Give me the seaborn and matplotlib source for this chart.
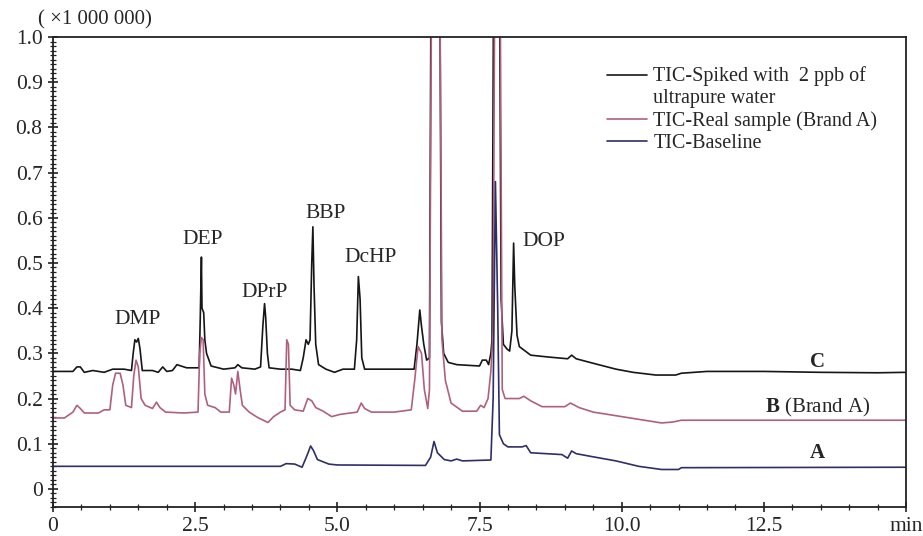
import numpy as np
import pandas as pd
import matplotlib
matplotlib.use("Agg")
import matplotlib.pyplot as plt
from matplotlib.ticker import MultipleLocator
import seaborn as sns

# Trace C - spiked with 2 ppb (time in min, intensity x 1 000 000)
c_time = [0.00, 0.35, 0.42, 0.48, 0.55, 0.70, 0.90, 1.05, 1.25, 1.38, 1.41, 1.44, 1.47, 1.50,
          1.53, 1.57, 1.75, 1.85, 1.93, 2.00, 2.10, 2.18, 2.25, 2.35, 2.57, 2.59, 2.61, 2.62,
          2.65, 2.67, 2.70, 2.78, 3.00, 3.20, 3.25, 3.32, 3.55, 3.65, 3.69, 3.72, 3.74, 3.77,
          3.80, 4.00, 4.20, 4.35, 4.40, 4.45, 4.49, 4.52, 4.55, 4.57, 4.59, 4.62, 4.67, 4.80,
          4.95, 5.10, 5.30, 5.34, 5.37, 5.40, 5.43, 5.48, 5.60, 6.00, 6.35, 6.40, 6.45, 6.48,
          6.52, 6.57, 6.62, 6.65, 6.80, 6.83, 6.87, 6.95, 7.10, 7.50, 7.55, 7.62, 7.66, 7.70,
          7.72, 7.75, 7.85, 7.88, 7.92, 7.98, 8.03, 8.07, 8.10, 8.12, 8.16, 8.20, 8.40, 8.70,
          9.05, 9.12, 9.20, 9.50, 9.90, 10.20, 10.60, 10.95, 11.05, 11.50, 12.50, 13.50, 14.50,
          15.00]
c_vals = [0.260, 0.260, 0.270, 0.270, 0.258, 0.262, 0.258, 0.265, 0.265, 0.262, 0.300, 0.330,
          0.325, 0.333, 0.310, 0.262, 0.262, 0.258, 0.270, 0.260, 0.262, 0.275, 0.272, 0.268,
          0.268, 0.380, 0.513, 0.400, 0.390, 0.330, 0.300, 0.272, 0.265, 0.268, 0.275, 0.268,
          0.265, 0.270, 0.360, 0.410, 0.380, 0.300, 0.268, 0.265, 0.265, 0.262, 0.290, 0.330,
          0.320, 0.330, 0.500, 0.580, 0.450, 0.320, 0.275, 0.265, 0.258, 0.265, 0.265, 0.330,
          0.470, 0.420, 0.290, 0.265, 0.265, 0.265, 0.265, 0.320, 0.396, 0.360, 0.320, 0.285,
          0.290, 1.200, 1.200, 0.370, 0.300, 0.280, 0.275, 0.272, 0.285, 0.285, 0.275, 0.300,
          0.330, 1.200, 1.200, 0.420, 0.320, 0.310, 0.305, 0.350, 0.544, 0.450, 0.340, 0.315,
          0.296, 0.292, 0.288, 0.296, 0.288, 0.278, 0.265, 0.258, 0.252, 0.252, 0.256, 0.260,
          0.260, 0.258, 0.257, 0.258]

# Trace B - real sample (Brand A)
b_time = [0.00, 0.20, 0.35, 0.42, 0.48, 0.55, 0.80, 0.90, 1.00, 1.05, 1.10, 1.18, 1.23, 1.28,
          1.38, 1.42, 1.46, 1.50, 1.55, 1.62, 1.75, 1.82, 1.88, 1.98, 2.30, 2.55, 2.58, 2.61,
          2.64, 2.67, 2.72, 2.85, 2.95, 3.10, 3.14, 3.18, 3.21, 3.25, 3.29, 3.33, 3.45, 3.60,
          3.78, 3.88, 4.00, 4.08, 4.11, 4.14, 4.17, 4.25, 4.40, 4.48, 4.55, 4.62, 4.75, 4.90,
          5.05, 5.35, 5.42, 5.48, 5.60, 6.00, 6.30, 6.36, 6.42, 6.48, 6.53, 6.59, 6.62, 6.66,
          6.80, 6.84, 6.90, 7.00, 7.20, 7.45, 7.52, 7.58, 7.65, 7.70, 7.74, 7.77, 7.86, 7.90,
          7.95, 8.20, 8.28, 8.40, 8.60, 9.00, 9.10, 9.25, 9.50, 10.00, 10.70, 10.90, 11.05,
          15.00]
b_vals = [0.157, 0.157, 0.170, 0.185, 0.178, 0.168, 0.168, 0.175, 0.175, 0.230, 0.256, 0.256,
          0.230, 0.185, 0.180, 0.250, 0.285, 0.270, 0.200, 0.185, 0.178, 0.192, 0.180, 0.170,
          0.168, 0.170, 0.300, 0.335, 0.330, 0.210, 0.185, 0.180, 0.170, 0.170, 0.245, 0.230,
          0.210, 0.260, 0.220, 0.185, 0.170, 0.158, 0.147, 0.160, 0.170, 0.175, 0.330, 0.320,
          0.185, 0.175, 0.172, 0.200, 0.195, 0.180, 0.172, 0.160, 0.165, 0.170, 0.190, 0.178,
          0.170, 0.170, 0.175, 0.240, 0.315, 0.300, 0.220, 0.178, 0.220, 1.200, 1.200, 0.330,
          0.240, 0.190, 0.172, 0.172, 0.185, 0.180, 0.200, 0.260, 0.350, 1.200, 1.200, 0.220,
          0.200, 0.200, 0.205, 0.195, 0.182, 0.182, 0.190, 0.180, 0.170, 0.160, 0.146, 0.148,
          0.152, 0.152]

# Trace A - baseline
a_time = [0.00, 4.00, 4.10, 4.25, 4.38, 4.47, 4.53, 4.58, 4.65, 4.85, 5.00, 6.55, 6.64, 6.70,
          6.76, 6.88, 7.00, 7.10, 7.20, 7.70, 7.74, 7.78, 7.82, 7.85, 7.92, 8.00, 8.25, 8.32,
          8.40, 8.95, 9.05, 9.12, 9.20, 9.50, 9.90, 10.30, 10.70, 11.00, 11.05, 15.00]
a_vals = [0.050, 0.050, 0.056, 0.055, 0.048, 0.075, 0.095, 0.085, 0.065, 0.055, 0.053, 0.052,
          0.070, 0.105, 0.080, 0.065, 0.062, 0.066, 0.062, 0.064, 0.200, 0.680, 0.400, 0.120,
          0.100, 0.093, 0.093, 0.096, 0.080, 0.076, 0.068, 0.084, 0.078, 0.071, 0.062, 0.050,
          0.043, 0.043, 0.047, 0.048]

series_labels = ["TIC-Spiked with  2 ppb of\nultrapure water",
                 "TIC-Real sample (Brand A)",
                 "TIC-Baseline"]
series_colors = ["#161616", "#b0607e", "#2e2e6a"]

peak_names = ["DMP", "DEP", "DPrP", "BBP", "DcHP", "DOP"]
peak_label_x = [1.48, 2.64, 3.73, 4.79, 5.58, 8.63]
peak_label_y = [0.375, 0.551, 0.434, 0.610, 0.513, 0.547]

x_ticks = [0, 2.5, 5.0, 7.5, 10.0, 12.5, 15.0]
x_tick_labels = ["0", "2.5", "5.0", "7.5", "10.0", "12.5", "min"]
y_ticks = [0, 0.1, 0.2, 0.3, 0.4, 0.5, 0.6, 0.7, 0.8, 0.9, 1.0]
y_tick_labels = ["0", "0.1", "0.2", "0.3", "0.4", "0.5", "0.6", "0.7", "0.8", "0.9", "1.0"]

sns.set_style("ticks")
plt.rcParams["font.family"] = ["Liberation Serif", "DejaVu Serif"]
plt.rcParams["mathtext.fontset"] = "custom"
plt.rcParams["mathtext.rm"] = "Liberation Serif"
plt.rcParams["mathtext.bf"] = "Liberation Serif:bold"

fig = plt.figure(figsize=(9.23, 5.36), dpi=100)
ax = fig.add_axes([53 / 923, 1 - 507 / 536, 853 / 923, 470 / 536])

traces = [(c_time, c_vals), (b_time, b_vals), (a_time, a_vals)]
for (t, v), lab, col in zip(traces, series_labels, series_colors):
    sns.lineplot(x=t, y=v, sort=False, estimator=None, color=col, linewidth=1.2,
                 label=lab, ax=ax)

ax.set_xlim(0, 15)
ax.set_ylim(-0.04, 1.0)
ax.set_xticks(x_ticks)
ax.set_xticklabels(x_tick_labels, fontsize=15.5)
ax.set_yticks(y_ticks)
ax.set_yticklabels(y_tick_labels, fontsize=15.5)
ax.xaxis.set_minor_locator(MultipleLocator(0.5))
ax.yaxis.set_minor_locator(MultipleLocator(0.01))
ax.tick_params(which="major", direction="inout", length=7, width=1.2, color="#222222", pad=4)
ax.tick_params(which="minor", direction="inout", length=4, width=0.9, color="#222222")
ax.set_xlabel("")
ax.set_ylabel("")
for s in ax.spines.values():
    s.set_linewidth(1.3)
    s.set_color("#222222")

for name, px, py in zip(peak_names, peak_label_x, peak_label_y):
    ax.text(px, py, name, ha="center", va="center", fontsize=15.5)

ax.text(13.45, 0.280, "C", ha="center", va="center", fontsize=15, fontweight="bold")
ax.text(13.45, 0.181, r"$\mathbf{B}$ (Brand A)", ha="center", va="center", fontsize=15)
ax.text(13.45, 0.080, "A", ha="center", va="center", fontsize=15, fontweight="bold")

fig.text(38 / 923, 1 - 20 / 536, "( ×1 000 000)", ha="left", va="center", fontsize=15)

leg = ax.legend(loc="upper left", bbox_to_anchor=(0.64, 0.955), frameon=False, fontsize=14.5,
                handlelength=2.0, handletextpad=0.3, labelspacing=0.15, borderaxespad=0)
# put the first handle level with the first line of its two-line label
first = leg.get_lines()[0]
first.set_ydata([yy + 8.5 for yy in first.get_ydata()])

fig.savefig("out.png", dpi=100)
